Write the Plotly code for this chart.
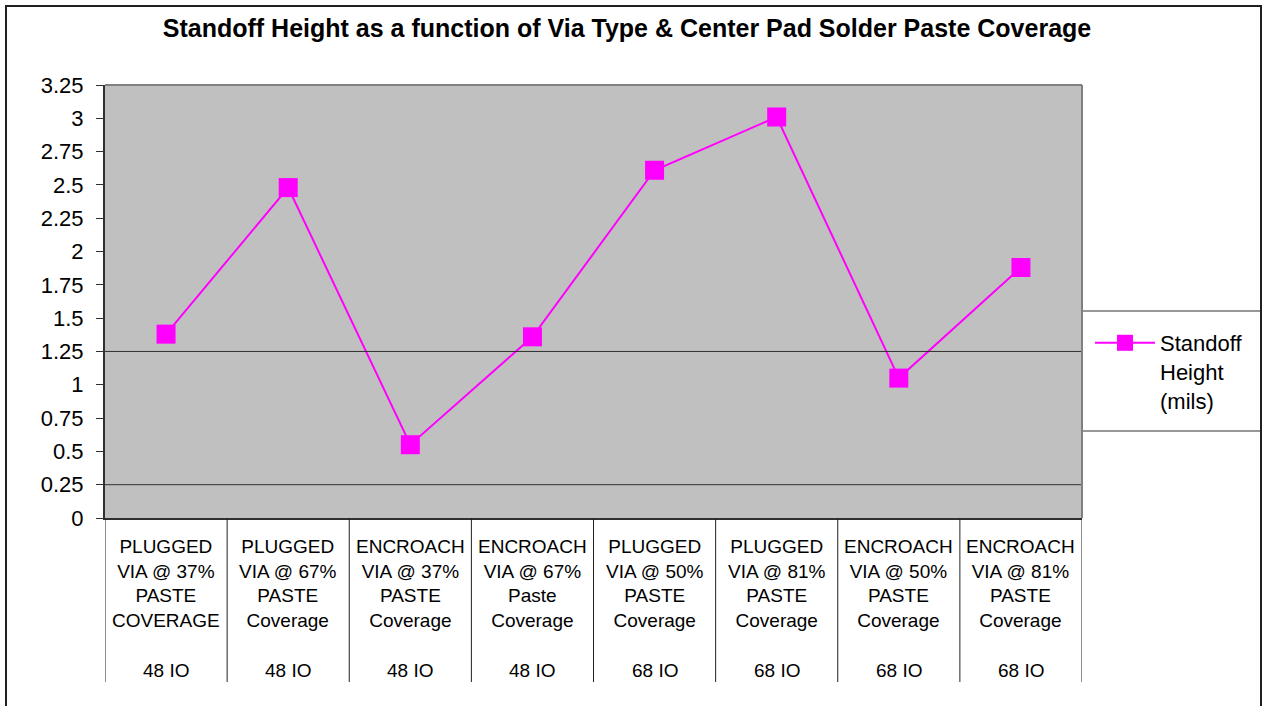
import plotly.graph_objects as go

# ---- data ----
categories = [
    "PLUGGED<br>VIA @ 37%<br>PASTE<br>COVERAGE",
    "PLUGGED<br>VIA @ 67%<br>PASTE<br>Coverage",
    "ENCROACH<br>VIA @ 37%<br>PASTE<br>Coverage",
    "ENCROACH<br>VIA @ 67%<br>Paste<br>Coverage",
    "PLUGGED<br>VIA @ 50%<br>PASTE<br>Coverage",
    "PLUGGED<br>VIA @ 81%<br>PASTE<br>Coverage",
    "ENCROACH<br>VIA @ 50%<br>PASTE<br>Coverage",
    "ENCROACH<br>VIA @ 81%<br>PASTE<br>Coverage",
]
io_groups = ["48 IO", "48 IO", "48 IO", "48 IO", "68 IO", "68 IO", "68 IO", "68 IO"]
standoff_height = [1.38, 2.48, 0.55, 1.36, 2.61, 3.01, 1.05, 1.88]
series_name = "Standoff<br>Height<br>(mils)"
y_ticks = [0, 0.25, 0.5, 0.75, 1, 1.25, 1.5, 1.75, 2, 2.25, 2.5, 2.75, 3, 3.25]
y_tick_labels = ["0", "0.25", "0.5", "0.75", "1", "1.25", "1.5", "1.75", "2",
                 "2.25", "2.5", "2.75", "3", "3.25"]
grid_values = [0.25, 1.25]
title_text = "Standoff Height as a function of Via Type & Center Pad Solder Paste Coverage"

FONT = "Liberation Sans, Arial, sans-serif"
W, H = 1264, 706
# plot area in page pixels
SX0, SX1, SY0, SY1 = 105, 1082, 85, 518
L, R, T, B = SX0, W - SX1, SY0, H - SY1
PW, PH = W - L - R, H - T - B


def px_x(sx):
    return (sx - SX0) / PW


def px_y(sy):
    return (SY1 - sy) / PH


xs = list(range(len(categories)))

fig = go.Figure()
fig.add_trace(go.Scatter(
    x=xs, y=standoff_height, mode="lines+markers", name=series_name,
    line=dict(color="#FF00FF", width=2),
    marker=dict(symbol="square", size=19, color="#FF00FF"),
    showlegend=True,
))

shapes = []
for g in grid_values:
    shapes.append(dict(type="line", xref="paper", yref="y", x0=0, x1=1, y0=g, y1=g,
                       line=dict(color="#303030", width=1), layer="above"))
shapes.append(dict(type="line", xref="paper", yref="paper", x0=0, x1=1, y0=1, y1=1,
                   line=dict(color="#808080", width=2)))
shapes.append(dict(type="line", xref="paper", yref="paper", x0=1, x1=1, y0=0, y1=1,
                   line=dict(color="#808080", width=2)))
bottom_y = px_y(682)
for i in range(len(categories) + 1):
    shapes.append(dict(type="line", xref="x", yref="paper", x0=i - 0.5, x1=i - 0.5,
                       y0=0, y1=bottom_y, line=dict(color="#202020", width=1)))
shapes.append(dict(type="rect", xref="paper", yref="paper",
                   x0=px_x(1082), x1=px_x(1261), y0=px_y(311), y1=px_y(431),
                   line=dict(color="#303030", width=1), fillcolor="white", layer="below"))
shapes.append(dict(type="rect", xref="paper", yref="paper",
                   x0=px_x(6), x1=px_x(1261), y0=px_y(6), y1=px_y(715),
                   line=dict(color="#202020", width=2), fillcolor="rgba(0,0,0,0)"))

annotations = []
for i, (c, io) in enumerate(zip(categories, io_groups)):
    annotations.append(dict(x=i, y=0, xref="x", yref="paper", text=c, showarrow=False,
                            yanchor="top", yshift=-16, align="center",
                            font=dict(family=FONT, size=19, color="black")))
    annotations.append(dict(x=i, y=0, xref="x", yref="paper", text=io, showarrow=False,
                            yanchor="middle", yshift=-152, align="center",
                            font=dict(family=FONT, size=19, color="black")))

fig.update_layout(
    width=W, height=H,
    margin=dict(l=L, r=R, t=T, b=B, pad=0),
    paper_bgcolor="white",
    plot_bgcolor="#C0C0C0",
    title=dict(text="<b>" + title_text + "</b>", x=627 / W, xanchor="center",
               y=1 - 28 / H, yanchor="middle", xref="container", yref="container",
               font=dict(family=FONT, size=25, color="black")),
    xaxis=dict(range=[-0.5, len(categories) - 0.5], showticklabels=False,
               showgrid=False, zeroline=False, showline=True, linecolor="#303030",
               linewidth=2, ticks=""),
    yaxis=dict(range=[0, 3.25], tickvals=y_ticks, ticktext=y_tick_labels,
               showgrid=False, zeroline=False, showline=True, linecolor="#303030",
               linewidth=2, ticks="outside", ticklen=7, tickcolor="#303030",
               tickwidth=1, ticklabelstandoff=8,
               tickfont=dict(family=FONT, size=22, color="black")),
    legend=dict(x=px_x(1090), y=px_y(322), xanchor="left", yanchor="top",
                bgcolor="rgba(0,0,0,0)", borderwidth=0, valign="top",
                itemwidth=60, font=dict(family=FONT, size=22, color="black")),
    shapes=shapes,
    annotations=annotations,
)

fig.write_html(
    "out.html",
    config={"displayModeBar": False},
    post_script="document.body.style.margin='0';document.body.style.overflow='hidden';"
                "document.documentElement.style.overflow='hidden';",
)
